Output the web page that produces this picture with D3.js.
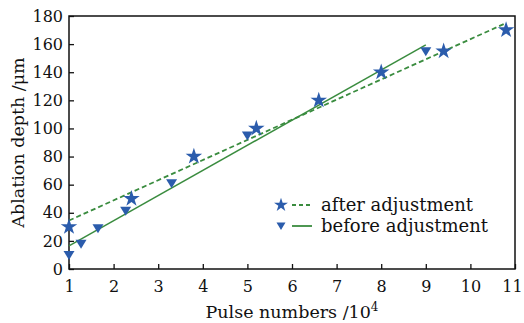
<!DOCTYPE html>
<html>
<head>
<meta charset="utf-8">
<script src="https://cdn.jsdelivr.net/npm/d3@7.9.0/dist/d3.min.js"></script>
<style>
  body { margin: 0; background: #fff; }
  svg text { font-family: "DejaVu Serif", serif; fill: #111; }
</style>
</head>
<body>
<svg id="chart" width="524" height="323"></svg>
<script>
// data
const afterX = [1, 2.4, 3.8, 5.2, 6.6, 8, 9.4, 10.8];
const afterY = [30, 50, 80, 100, 120, 140, 155, 170];
const beforeX = [1, 1.27, 1.65, 2.27, 3.3, 5, 9];
const beforeY = [10, 18, 29, 41.5, 61, 95, 155];
// fitted lines (end points)
const afterFitX = [1, 10.8];
const afterFitY = [34.5, 175];
const beforeFitX = [1, 9];
const beforeFitY = [16.5, 159.5];

const xTicks = [1, 2, 3, 4, 5, 6, 7, 8, 9, 10, 11];
const yTicks = [0, 20, 40, 60, 80, 100, 120, 140, 160, 180];

const blue = '#2b5cac';
const green = '#3a8c3f';

const svg = d3.select('#chart');
const margin = { left: 69, right: 9, top: 16, bottom: 54 };
const W = 524, H = 323;

const x = d3.scaleLinear().domain([1, 11]).range([margin.left, W - margin.right]);
const y = d3.scaleLinear().domain([0, 180]).range([H - margin.bottom, margin.top]);

// axes with inward ticks
const xAxis = svg.append('g')
  .attr('transform', `translate(0,${y(0)})`)
  .call(d3.axisBottom(x).tickValues(xTicks).tickSizeInner(-5).tickSizeOuter(0).tickPadding(12));
const yAxis = svg.append('g')
  .attr('transform', `translate(${x(1)},0)`)
  .call(d3.axisLeft(y).tickValues(yTicks).tickSizeInner(-5).tickSizeOuter(0).tickPadding(6));

[xAxis, yAxis].forEach(g => {
  g.select('.domain').remove();
  g.selectAll('line').attr('stroke', '#111').attr('stroke-width', 1.3);
  g.selectAll('text').attr('font-family', 'DejaVu Serif').attr('font-size', 16).attr('fill', '#111');
});
// last x label sits at the window edge, as in the reference; nudge it in a little
xAxis.selectAll('.tick').filter(d => d === 11).select('text').attr('dx', -3);

// frame
svg.append('rect')
  .attr('x', x(1)).attr('y', y(180))
  .attr('width', x(11) - x(1)).attr('height', y(0) - y(180))
  .attr('fill', 'none').attr('stroke', '#111').attr('stroke-width', 1.5);

const line = d3.line().x(d => x(d[0])).y(d => y(d[1]));

// fitted lines
svg.append('path')
  .datum(d3.zip(afterFitX, afterFitY))
  .attr('d', line)
  .attr('fill', 'none').attr('stroke', green).attr('stroke-width', 1.8)
  .attr('stroke-dasharray', '5,3');
svg.append('path')
  .datum(d3.zip(beforeFitX, beforeFitY))
  .attr('d', line)
  .attr('fill', 'none').attr('stroke', green).attr('stroke-width', 1.5);

// markers
const star = d3.symbol().type(d3.symbolStar).size(85);
const tri = 'M-5.5,-4 L5.5,-4 L0,5 Z';

svg.append('g').selectAll('path')
  .data(d3.zip(afterX, afterY))
  .join('path')
  .attr('d', star)
  .attr('transform', d => `translate(${x(d[0])},${y(d[1])})`)
  .attr('fill', blue);

svg.append('g').selectAll('path')
  .data(d3.zip(beforeX, beforeY))
  .join('path')
  .attr('d', tri)
  .attr('transform', d => `translate(${x(d[0])},${y(d[1])})`)
  .attr('fill', blue);

// legend
const legend = svg.append('g').attr('transform', 'translate(281,205)');
legend.append('path').attr('d', d3.symbol().type(d3.symbolStar).size(60)).attr('fill', blue);
legend.append('line').attr('x1', 11).attr('x2', 31).attr('y1', 0).attr('y2', 0)
  .attr('stroke', green).attr('stroke-width', 1.8).attr('stroke-dasharray', '4,3');
legend.append('text').attr('x', 40).attr('y', 6).attr('font-size', 18).text('after adjustment');
legend.append('path').attr('d', 'M-4.5,-3.5 L4.5,-3.5 L0,4 Z').attr('transform', 'translate(0,21)').attr('fill', blue);
legend.append('line').attr('x1', 11).attr('x2', 31).attr('y1', 21).attr('y2', 21)
  .attr('stroke', green).attr('stroke-width', 1.8);
legend.append('text').attr('x', 40).attr('y', 27).attr('font-size', 18).text('before adjustment');

// axis titles
svg.append('text')
  .attr('x', (x(1) + x(11)) / 2).attr('y', 318)
  .attr('text-anchor', 'middle').attr('font-size', 17.5)
  .html('Pulse numbers /10<tspan dy="-7" font-size="12">4</tspan>');
svg.append('text')
  .attr('transform', `translate(24,${(y(0) + y(180)) / 2}) rotate(-90)`)
  .attr('text-anchor', 'middle').attr('font-size', 17.5)
  .text('Ablation depth /μm');
</script>
</body>
</html>
